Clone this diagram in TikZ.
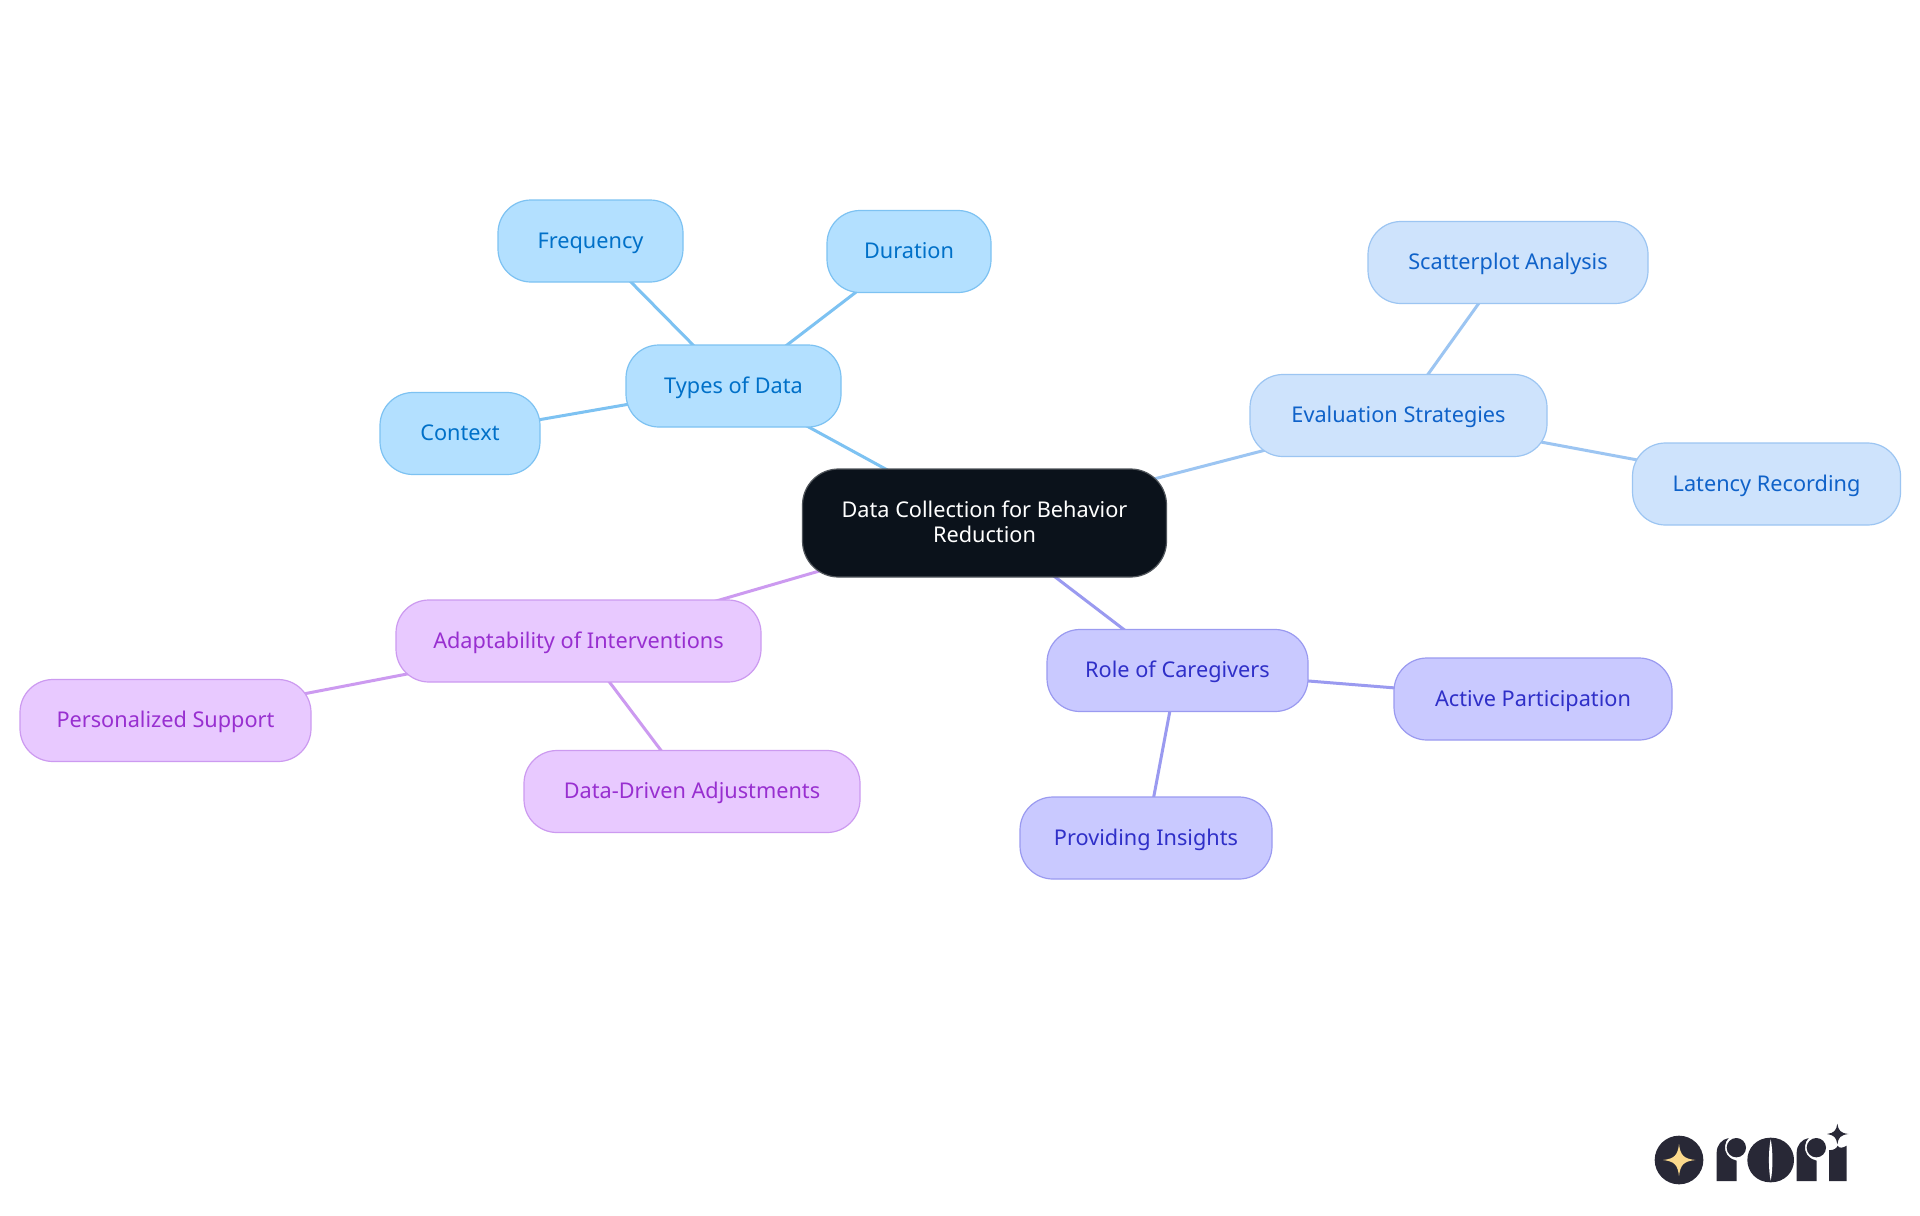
\documentclass[tikz,border=0pt]{standalone}
\usepackage{fontspec}
\setmainfont{Noto Sans}
\usetikzlibrary{backgrounds}
\definecolor{rootfill}{HTML}{0B121B}
\definecolor{rootline}{HTML}{50555B}
\definecolor{bluefill}{HTML}{B3E0FF}
\definecolor{blueline}{HTML}{7DC2F2}
\definecolor{bluetext}{HTML}{0070C8}
\definecolor{skyfill}{HTML}{CEE3FC}
\definecolor{skyline}{HTML}{9CC5F2}
\definecolor{skytext}{HTML}{0F62C9}
\definecolor{indfill}{HTML}{C9C9FF}
\definecolor{indline}{HTML}{9A9AF0}
\definecolor{indtext}{HTML}{2F2FC8}
\definecolor{purfill}{HTML}{E8C9FF}
\definecolor{purline}{HTML}{CC9AF0}
\definecolor{purtext}{HTML}{982FD0}
\definecolor{logodark}{HTML}{282836}
\definecolor{logostar}{HTML}{FBD98C}
\tikzset{
 x=0.5pt,y=-0.5pt,
 mapnode/.style n args={2}{rectangle,rounded corners=16.5pt,inner sep=0pt,line width=0.6pt,align=center,
   minimum width=#1*0.5pt,minimum height=#2*0.5pt,
   font=\fontsize{10.85pt}{12.5pt}\selectfont},
 leaf/.style={text height=8.6pt,text depth=1.4pt},
 bluenode/.style={leaf,fill=bluefill,draw=blueline,text=bluetext},
 skynode/.style={leaf,fill=skyfill,draw=skyline,text=skytext},
 indnode/.style={leaf,fill=indfill,draw=indline,text=indtext},
 purnode/.style={leaf,fill=purfill,draw=purline,text=purtext},
 rootnode/.style={fill=rootfill,draw=rootline,text=white,rounded corners=18pt},
 link/.style={line width=1.5pt},
}
\begin{document}
\begin{tikzpicture}
\useasboundingbox (0,0) rectangle (1920,1215);
\node[mapnode={364}{108},rootnode] (root) at (984.5,523) {Data Collection for Behavior\\Reduction\\[-10.9pt]\mbox{}};
\node[mapnode={215}{82},bluenode] (types) at (733.5,386) {Types of Data};
\node[mapnode={185}{82},bluenode] (freq) at (590.5,241) {Frequency};
\node[mapnode={164}{82},bluenode] (dur) at (909,251.5) {Duration};
\node[mapnode={160}{82},bluenode] (ctx) at (460,433.5) {Context};
\node[mapnode={297}{82},skynode] (eval) at (1398.5,415.5) {Evaluation Strategies};
\node[mapnode={280}{82},skynode] (scat) at (1508,262.5) {Scatterplot Analysis};
\node[mapnode={268}{82},skynode] (lat) at (1766.5,484) {Latency Recording};
\node[mapnode={261}{82},indnode] (role) at (1177.5,670.5) {Role of Caregivers};
\node[mapnode={278}{82},indnode] (act) at (1533,699) {Active Participation};
\node[mapnode={252}{82},indnode] (prov) at (1146,838) {Providing Insights};
\node[mapnode={365}{82},purnode] (adapt) at (578.5,641) {Adaptability of Interventions};
\node[mapnode={291}{82},purnode] (pers) at (165.5,720.5) {Personalized Support};
\node[mapnode={336}{82},purnode] (ddadj) at (692,791.5) {Data-Driven Adjustments};
\begin{scope}[on background layer]
\fill[white] (0,0) rectangle (1920,1215);
\draw[link,blueline] (root.center) -- (types.center);
\draw[link,blueline] (types.center) -- (freq.center);
\draw[link,blueline] (types.center) -- (dur.center);
\draw[link,blueline] (types.center) -- (ctx.center);
\draw[link,skyline] (root.center) -- (eval.center);
\draw[link,skyline] (eval.center) -- (scat.center);
\draw[link,skyline] (eval.center) -- (lat.center);
\draw[link,indline] (root.center) -- (role.center);
\draw[link,indline] (role.center) -- (act.center);
\draw[link,indline] (role.center) -- (prov.center);
\draw[link,purline] (root.center) -- (adapt.center);
\draw[link,purline] (adapt.center) -- (pers.center);
\draw[link,purline] (adapt.center) -- (ddadj.center);
\end{scope}
% logo
\begin{scope}[shift={(1620,1100)},x=0.5pt/3,y=-0.5pt/3]
\fill[logodark] (177,180) circle [radius=73*0.5pt/3];
\fill[logostar] (177,132) .. controls (181,165) and (190,176) .. (226,180) .. controls (190,184) and (181,195) .. (177,228) .. controls (173,195) and (164,184) .. (129,180) .. controls (164,176) and (173,165) .. (177,132) -- cycle;
% first r
\fill[logodark] (290,243) -- (290,158) .. controls (290,135) and (305,118) .. (326,114) .. controls (314,125) and (310,150) .. (322,165) .. controls (332,177) and (342,180) .. (350,182) -- (350,243) -- cycle;
\fill[logodark] (349,143) circle [radius=29*0.5pt/3];
% o
\fill[logodark] (452,113) .. controls (495,113) and (522,145) .. (522,180) .. controls (522,215) and (495,247) .. (452,247) .. controls (409,247) and (382,215) .. (382,180) .. controls (382,145) and (409,113) .. (452,113) -- cycle;
\fill[white] (452,118) .. controls (459,150) and (459,210) .. (452,242) .. controls (445,210) and (445,150) .. (452,118) -- cycle;
% second r
\fill[logodark] (530,243) -- (530,158) .. controls (530,135) and (545,118) .. (566,114) .. controls (554,125) and (550,150) .. (562,165) .. controls (572,177) and (582,180) .. (590,182) -- (590,243) -- cycle;
\fill[logodark] (589,143) circle [radius=29*0.5pt/3];
% i
\fill[logodark] (627,243) -- (627,150) .. controls (640,152) and (650,145) .. (653,137) .. controls (656,145) and (668,145) .. (680,137) -- (680,243) -- cycle;
% small star
\fill[logodark] (652,71) .. controls (655,92) and (662,99) .. (685,102) .. controls (662,105) and (655,112) .. (652,133) .. controls (649,112) and (642,105) .. (621,102) .. controls (642,99) and (649,92) .. (652,71) -- cycle;
\end{scope}
\end{tikzpicture}
\end{document}
